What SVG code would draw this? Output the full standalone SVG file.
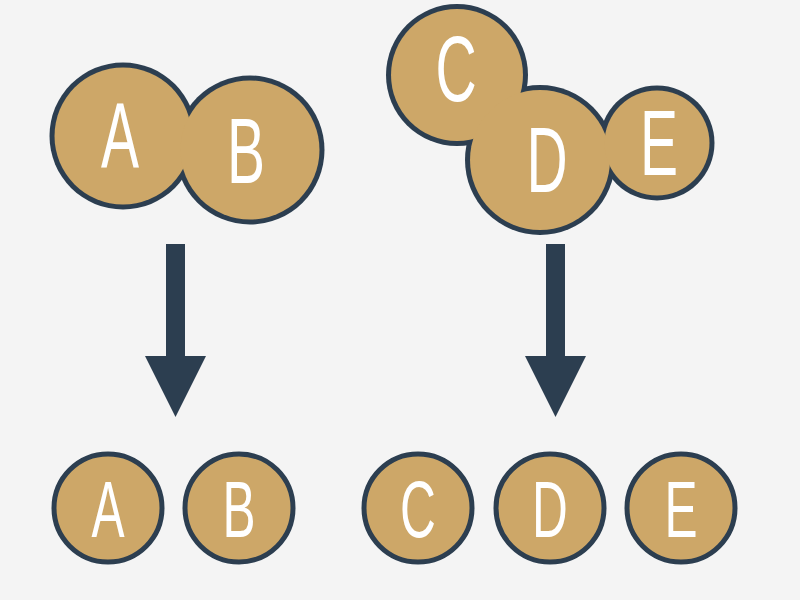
<svg xmlns="http://www.w3.org/2000/svg" width="800" height="600" viewBox="0 0 800 600">
  <style>
    .ring { fill: #2c3e50; }
    .fill { fill: #cda768; }
    .solo { fill: #cda768; stroke: #2c3e50; stroke-width: 5; }
    .lbl { font-family: "Liberation Sans", Arial, sans-serif; fill: #ffffff; text-anchor: middle; }
    .big { font-size: 92px; }
    .small { font-size: 80px; }
    .arrow { fill: #2c3e50; }
  </style>
  <rect x="0" y="0" width="800" height="600" fill="#f4f4f4"/>

  <g id="node-AB-merged">
    <circle class="ring" cx="123" cy="136" r="73.5"/>
    <circle class="ring" cx="250" cy="150" r="74.5"/>
    <circle class="fill" cx="123" cy="136" r="68.5"/>
    <circle class="fill" cx="250" cy="150" r="69.5"/>
    <text class="lbl big" transform="translate(120,168) scale(0.62,1)">A</text>
    <text class="lbl big" transform="translate(246,183) scale(0.62,1)">B</text>
  </g>

  <g id="node-CDE-merged">
    <circle class="ring" cx="457" cy="75" r="71"/>
    <circle class="ring" cx="540" cy="160" r="75"/>
    <circle class="ring" cx="657" cy="143" r="57.5"/>
    <circle class="fill" cx="457" cy="75" r="66"/>
    <circle class="fill" cx="540" cy="160" r="70"/>
    <circle class="fill" cx="657" cy="143" r="52.5"/>
    <text class="lbl big" transform="translate(456,101) scale(0.62,1)">C</text>
    <text class="lbl big" transform="translate(547,192) scale(0.62,1)">D</text>
    <text class="lbl big" transform="translate(659,175) scale(0.62,1)">E</text>
  </g>

  <g id="connectors">
    <polygon class="arrow" points="166,244 185,244 185,356 206,356 175.5,417 145,356 166,356"/>
    <polygon class="arrow" points="546,244 565,244 565,356 586,356 555.5,417 525,356 546,356"/>
  </g>

  <g id="node-A">
    <circle class="solo" cx="108" cy="508" r="54"/>
    <text class="lbl small" transform="translate(108,537) scale(0.62,1)">A</text>
  </g>
  <g id="node-B">
    <circle class="solo" cx="239" cy="508" r="54"/>
    <text class="lbl small" transform="translate(239,537) scale(0.62,1)">B</text>
  </g>
  <g id="node-C">
    <circle class="solo" cx="418" cy="508" r="54"/>
    <text class="lbl small" transform="translate(418,537) scale(0.62,1)">C</text>
  </g>
  <g id="node-D">
    <circle class="solo" cx="550" cy="508" r="54"/>
    <text class="lbl small" transform="translate(550,537) scale(0.62,1)">D</text>
  </g>
  <g id="node-E">
    <circle class="solo" cx="681" cy="508" r="54"/>
    <text class="lbl small" transform="translate(681,537) scale(0.62,1)">E</text>
  </g>
</svg>
